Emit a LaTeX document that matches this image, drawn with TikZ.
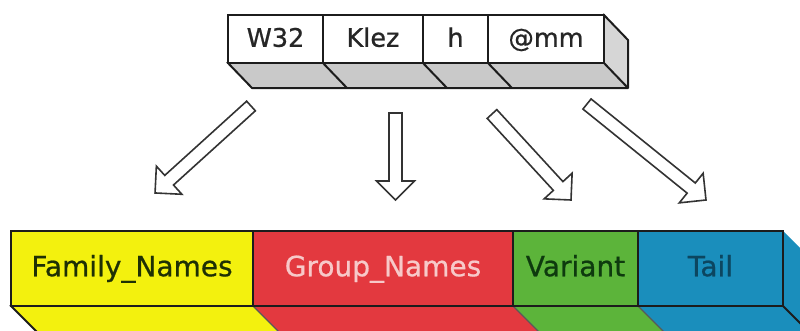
\documentclass[tikz,border=0pt]{standalone}
\usepackage{fontspec}
\setmainfont{DejaVu Sans}
\newfontfamily\labelfont[FakeBold=0.7]{DejaVu Sans}
\usetikzlibrary{calc}

\definecolor{famY}{HTML}{F3F10E}
\definecolor{grpR}{HTML}{E3393F}
\definecolor{varG}{HTML}{5CB43A}
\definecolor{tailB}{HTML}{1A8EBC}
\definecolor{edgeK}{HTML}{1C1C1C}
\definecolor{baseGray}{HTML}{C9C9C9}
\definecolor{sideGray}{HTML}{D6D6D6}
\definecolor{famTxt}{HTML}{1E3004}
\definecolor{grpTxt}{HTML}{F7C9C9}
\definecolor{varTxt}{HTML}{0E3A0E}
\definecolor{tailTxt}{HTML}{0C4660}

\tikzset{
  topseg/.style={draw=edgeK, line width=2pt, fill=white, minimum height=48pt,
    inner sep=0pt, anchor=north west, text=black!85,
    font=\labelfont\fontsize{25.5}{30}\selectfont, text height=18.5pt, text depth=3pt},
  botseg/.style={draw=edgeK, line width=2pt, minimum height=75pt,
    inner sep=0pt, anchor=north west,
    font=\labelfont\fontsize{28}{33}\selectfont, text height=20.5pt, text depth=5pt},
  hollow arrow/.style={draw=black!80, fill=white, line width=1.6pt, line join=miter}
}

% block arrow with an open outline, from one named point to another
\makeatletter
\newcommand\hollowarrow[2]{%
  \pgfpointdiff{\pgfpointanchor{#1}{center}}{\pgfpointanchor{#2}{center}}%
  \pgfmathparse{veclen(\pgf@x,\pgf@y)}\let\harlen\pgfmathresult
  \pgfmathanglebetweenpoints{\pgfpointanchor{#1}{center}}{\pgfpointanchor{#2}{center}}%
  \let\harang\pgfmathresult
  \begin{scope}[shift={(#1)},rotate=\harang]
    \draw[hollow arrow] (0,-6.5) -- ({\harlen-19},-6.5) -- ({\harlen-19},-19)
      -- (\harlen,0) -- ({\harlen-19},19) -- ({\harlen-19},6.5) -- (0,6.5) -- cycle;
  \end{scope}}
\makeatother

\begin{document}
\begin{tikzpicture}[x=1pt,y=-1pt]
  \useasboundingbox (0,0) rectangle (800,330);
  \clip (0,0) rectangle (800,330);

  % ---- upper bar: W32 Klez h @mm ----
  \fill[baseGray] (227,62) -- (603,62) -- (628,88) -- (252,88) -- cycle;
  \fill[sideGray] (603,14) -- (628,40) -- (628,88) -- (603,62) -- cycle;
  \draw[edgeK, line width=2pt, line join=round]
    (227,62) -- (252,88) -- (628,88) -- (628,40) -- (603,14)
    (603,62) -- (628,88)
    (322,62) -- (347,88)
    (422,62) -- (447,88)
    (487,62) -- (512,88);

  \node[topseg, minimum width=95pt]  (w32)  at (227,14) {W32};
  \node[topseg, minimum width=100pt] (klez) at (322,14) {Klez};
  \node[topseg, minimum width=65pt]  (hh)   at (422,14) {h};
  \node[topseg, minimum width=116pt] (amm)  at (487,14) {@mm};

  % ---- lower bar: Family_Names Group_Names Variant Tail ----
  \fill[famY]  (10,305)  -- (252,305) -- (292,345) -- (50,345) -- cycle;
  \fill[grpR]  (252,305) -- (512,305) -- (552,345) -- (292,345) -- cycle;
  \fill[varG]  (512,305) -- (637,305) -- (677,345) -- (552,345) -- cycle;
  \fill[tailB] (637,305) -- (782,305) -- (822,345) -- (677,345) -- cycle;
  \fill[tailB] (782,230) -- (822,270) -- (822,345) -- (782,305) -- cycle;
  \draw[black!65, line width=1.2pt]
    (252,305) -- (292,345)
    (512,305) -- (552,345)
    (637,305) -- (677,345);
  \draw[edgeK, line width=2pt] (10,305) -- (50,345) (782,305) -- (822,345);

  \node[botseg, fill=famY,  text=famTxt,  minimum width=242pt] (fam)  at (10,230)  {Family\_Names};
  \node[botseg, fill=grpR,  text=grpTxt,  minimum width=260pt] (grp)  at (252,230) {Group\_Names};
  \node[botseg, fill=varG,  text=varTxt,  minimum width=125pt] (var)  at (512,230) {Variant};
  \node[botseg, fill=tailB, text=tailTxt, minimum width=145pt] (tail) at (637,230) {Tail};

  % ---- arrows between the bars ----
  \coordinate (a1s) at (251,106); \coordinate (a1e) at (155,193);
  \coordinate (a2s) at (395.5,113); \coordinate (a2e) at (395.5,200);
  \coordinate (a3s) at (492,114); \coordinate (a3e) at (571,200);
  \coordinate (a4s) at (587,104); \coordinate (a4e) at (706,200);
  \hollowarrow{a1s}{a1e}
  \hollowarrow{a2s}{a2e}
  \hollowarrow{a3s}{a3e}
  \hollowarrow{a4s}{a4e}
\end{tikzpicture}
\end{document}
